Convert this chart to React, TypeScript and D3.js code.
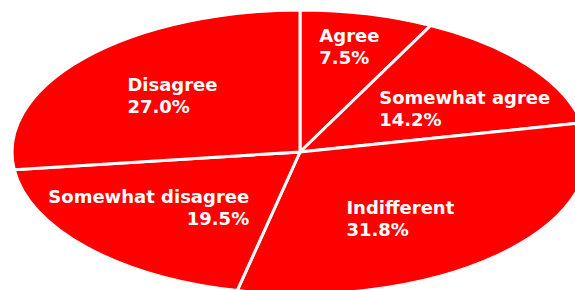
import * as d3 from "d3";

const categories = ["Agree", "Somewhat agree", "Indifferent", "Somewhat disagree", "Disagree"];
const shares = [7.5, 14.2, 31.8, 19.5, 27.0];

// label nudges (px) from the slice centroid, and alignment
const labelNudge: [number, number, "start" | "end"][] = [
  [-21, -27, "start"],
  [-58, 4, "start"],
  [-75, 1, "start"],
  [77, -6, "end"],
  [-43, -5, "start"],
];

const W = 575;
const H = 290;
const cx = 300;
const cy = 152;
const rx = 288;
const ry = 142;

export default function App() {
  const data = categories.map((c, i) => ({ label: c, value: shares[i] }));
  const pie = d3
    .pie<(typeof data)[number]>()
    .sort(null)
    .value((d) => d.value);
  const arcs = pie(data);
  const arc = d3.arc<d3.PieArcDatum<(typeof data)[number]>>().innerRadius(0).outerRadius(1);
  const labelArc = d3
    .arc<d3.PieArcDatum<(typeof data)[number]>>()
    .innerRadius(0.6)
    .outerRadius(0.6);

  return (
    <svg
      width={W}
      height={H}
      style={{ position: "absolute", left: 0, top: 0 }}
      fontFamily="'DejaVu Sans', sans-serif"
    >
      <g transform={`translate(${cx},${cy}) scale(${rx},${ry})`}>
        {arcs.map((a) => (
          <path
            key={a.data.label}
            d={arc(a) ?? ""}
            fill="#ff0000"
            stroke="#fff"
            strokeWidth={3}
            vectorEffect="non-scaling-stroke"
          />
        ))}
      </g>
      {/* Labels */}
      {arcs.map((a, i) => {
        const [px, py] = labelArc.centroid(a);
        const [dx, dy, anchor] = labelNudge[i];
        const x = cx + px * rx + dx;
        const y = cy + py * ry + dy;
        return (
          <text
            key={a.data.label}
            x={x}
            y={y}
            fill="#fff"
            fontSize={18}
            fontWeight="bold"
            textAnchor={anchor}
          >
            <tspan x={x}>{a.data.label}</tspan>
            <tspan x={x} dy={22}>
              {a.data.value.toFixed(1)}%
            </tspan>
          </text>
        );
      })}
    </svg>
  );
}
